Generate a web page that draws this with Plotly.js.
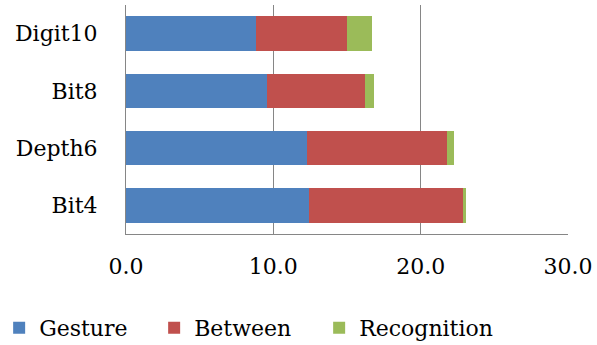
<!DOCTYPE html>
<html>
<head>
<meta charset="utf-8">
<script src="https://cdn.plot.ly/plotly-3.0.1.min.js"></script>
<style>html,body{margin:0;padding:0;background:#fff;}#chart{width:597px;height:345px;}</style>
</head>
<body>
<div id="chart"></div>
<script>
const categories = ["Bit4", "Depth6", "Bit8", "Digit10"];
const gesture = [12.4, 12.3, 9.6, 8.8];
const between = [10.45, 9.5, 6.6, 6.2];
const recognition = [0.25, 0.45, 0.6, 1.7];
const tickVals = [0, 10, 20, 30];
const tickText = ["0.0", "10.0", "20.0", "30.0"];

const font = {family: "DejaVu Serif", size: 22, color: "#000"};

function mk(name, vals, color, lw) {
  const t = {type: "bar", orientation: "h", name: name, x: vals, y: categories,
    marker: {color: color, line: {width: 0}}, width: 0.6, hoverinfo: "x+name"};
  if (lw) t.legendwidth = lw;
  return t;
}

const data = [
  mk("Gesture", gesture, "#4F81BD", 110),
  mk("Between", between, "#C0504D", 120),
  mk("Recognition", recognition, "#9BBB59", 0)
];

const layout = {
  width: 597, height: 345,
  margin: {l: 126, r: 29, t: 5, b: 111, autoexpand: false},
  barmode: "stack",
  paper_bgcolor: "#fff", plot_bgcolor: "#fff",
  font: font,
  showlegend: true,
  xaxis: {range: [0, 30], tickvals: tickVals, ticktext: tickText,
    showgrid: true, gridcolor: "#868686", gridwidth: 1,
    showline: true, linecolor: "#868686", linewidth: 1,
    ticks: "", zeroline: false, ticklabelstandoff: 13, tickfont: font, fixedrange: true, automargin: false},
  yaxis: {showgrid: false, showline: true, linecolor: "#868686", linewidth: 1,
    ticks: "", zeroline: false, ticklabelstandoff: 23, tickfont: font, fixedrange: true, automargin: false},
  legend: {orientation: "h", x: -0.287, xanchor: "left", y: -0.41, yanchor: "middle",
    font: font, traceorder: "normal", itemwidth: 30, tracegroupgap: 0},
  bargap: 0.4
};

Plotly.newPlot("chart", data, layout, {displayModeBar: false, staticPlot: true});
</script>
</body>
</html>
